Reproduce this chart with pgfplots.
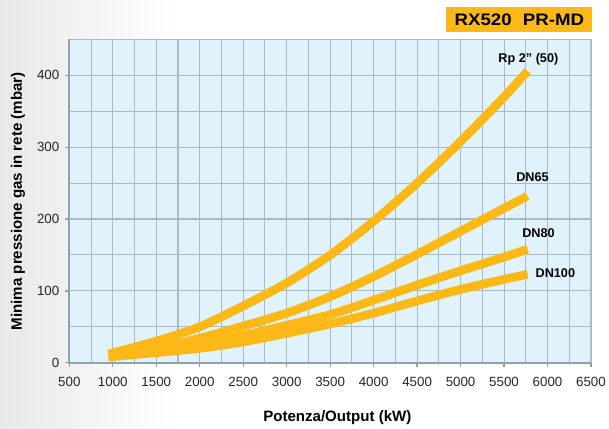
\documentclass[border=0pt]{standalone}
\usepackage{pgfplots}
\pgfplotsset{compat=1.18}
\usepackage{fontspec}
\setmainfont{Liberation Sans}
\definecolor{curve}{HTML}{FBB817}
\definecolor{bgblue}{HTML}{E0F2FB}
\definecolor{gridc}{HTML}{A9BBC7}
\definecolor{axisc}{HTML}{8FA1AC}
\begin{document}
\begin{tikzpicture}
\useasboundingbox (0,0) rectangle (456.75pt,321pt);
\shade[left color=black!9, right color=white] (0,0) rectangle (130pt,321pt);
\begin{axis}[
  at={(52pt,49pt)}, anchor=south west,
  width=391.25pt, height=242.4pt, scale only axis,
  xmin=500, xmax=6500, ymin=0, ymax=450,
  xtick={500,1000,...,6500}, ytick={0,100,...,400},
  minor x tick num=1, minor y tick num=1,
  grid=both,
  major grid style={gridc, line width=0.8pt},
  minor grid style={gridc, line width=0.8pt},
  axis line style={gridc, line width=0.8pt},
  axis background/.style={fill=bgblue},
  tick align=outside, major tick length=3pt, minor tick length=0pt,
  xtick pos=bottom, ytick pos=left,
  tick style={axisc, line width=1pt},
  /pgf/number format/assume math mode=true,
  /pgf/number format/1000 sep={},
  ticklabel style={font=\fontsize{10}{12}\selectfont, text=black!85},
  xticklabel style={yshift=-4.5pt},
  yticklabel style={xshift=-1pt},
  clip=false,
]
\addplot[curve, line width=6.5pt, smooth, line cap=butt] coordinates {
(950,12) (1500,30) (2000,50) (2500,79) (3000,111) (3500,150) (4000,197) (4500,250) (5000,308) (5500,370) (5770,406)};
\addplot[curve, line width=6.5pt, smooth, line cap=butt] coordinates {
(950,10) (1500,20) (2000,34) (2500,51) (3000,69) (3500,92) (4000,120) (4500,151) (5000,183) (5500,215) (5770,232)};
\addplot[curve, line width=6.5pt, smooth, line cap=butt] coordinates {
(950,10) (1500,17) (2000,26) (2500,38) (3000,52) (3500,67) (4000,87) (4500,108) (5000,128) (5500,147) (5770,158)};
\addplot[curve, line width=6.5pt, smooth, line cap=butt] coordinates {
(950,8) (1500,14) (2000,20) (2500,29) (3000,41) (3500,54) (4000,69) (4500,86) (5000,102) (5500,116) (5770,123)};
\draw[axisc, line width=1.5pt] (rel axis cs:0,1) -- (rel axis cs:0,0) -- (rel axis cs:1,0);
\node[font=\bfseries\fontsize{9.5}{11}\selectfont] at (axis cs:5780,423) {Rp 2\symbol{34} (50)};
\node[font=\bfseries\fontsize{9.5}{11}\selectfont] at (axis cs:5827,259) {DN65};
\node[font=\bfseries\fontsize{9.5}{11}\selectfont] at (axis cs:5896,180) {DN80};
\node[font=\bfseries\fontsize{9.5}{11}\selectfont] at (axis cs:6090,125) {DN100};
\end{axis}
\node[fill=curve, inner sep=0pt, minimum width=109.5pt, minimum height=18.5pt, anchor=north east,
  font=\bfseries\fontsize{12.5}{14}\selectfont] at (444.5pt,315.75pt) {\scalebox{1.12}[1]{RX520\hspace{0.6em}PR-MD}};
\node[font=\bfseries\fontsize{11.3}{13}\selectfont] at (253pt,7.5pt) {Potenza/Output (kW)};
\node[font=\bfseries\fontsize{11.3}{13}\selectfont, rotate=90] at (13.5pt,170pt) {Minima pressione gas in rete (mbar)};
\end{tikzpicture}
\end{document}
